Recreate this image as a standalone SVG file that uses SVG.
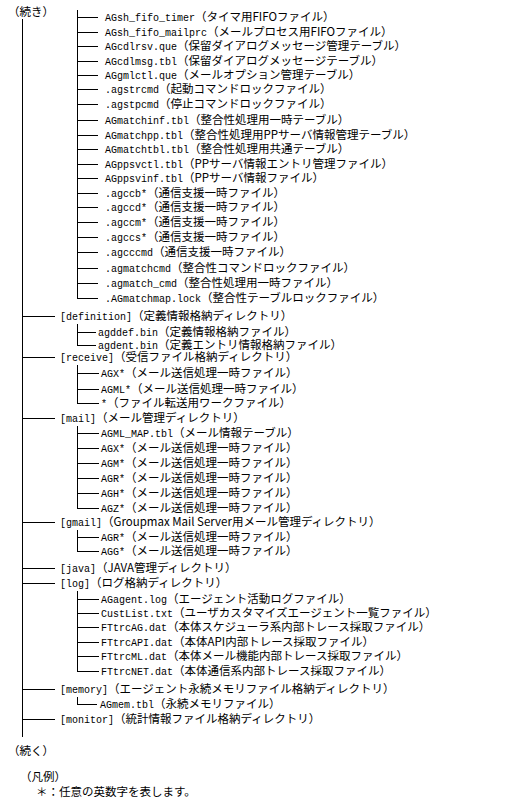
<svg xmlns="http://www.w3.org/2000/svg" width="519" height="804" viewBox="0 0 519 804">
<style>
text{font-family:"Liberation Mono","Noto Sans CJK JP",monospace;font-size:10px;fill:#000}
.j{font-family:"Noto Sans CJK JP","Liberation Sans",sans-serif;font-size:11.5px}
.c line{stroke:#000;stroke-width:1;shape-rendering:crispEdges}
</style>
<rect width="519" height="804" fill="#fff"/>
<g id="connectors" class="c">
<line x1="22.5" y1="19" x2="22.5" y2="737"/>
<line x1="77.5" y1="10" x2="77.5" y2="298.5"/>
<line x1="77" y1="17.5" x2="98" y2="17.5"/><line x1="77" y1="32.5" x2="98" y2="32.5"/><line x1="77" y1="46.5" x2="98" y2="46.5"/><line x1="77" y1="61.5" x2="98" y2="61.5"/><line x1="77" y1="75.5" x2="98" y2="75.5"/><line x1="77" y1="89.5" x2="98" y2="89.5"/><line x1="77" y1="104.5" x2="98" y2="104.5"/><line x1="77" y1="120.5" x2="98" y2="120.5"/><line x1="77" y1="135.5" x2="98" y2="135.5"/><line x1="77" y1="149.5" x2="98" y2="149.5"/><line x1="77" y1="164.5" x2="98" y2="164.5"/><line x1="77" y1="178.5" x2="98" y2="178.5"/><line x1="77" y1="193.5" x2="98" y2="193.5"/><line x1="77" y1="207.5" x2="98" y2="207.5"/><line x1="77" y1="222.5" x2="98" y2="222.5"/><line x1="77" y1="237.5" x2="98" y2="237.5"/><line x1="77" y1="252.5" x2="98" y2="252.5"/><line x1="77" y1="268.5" x2="98" y2="268.5"/><line x1="77" y1="283.5" x2="98" y2="283.5"/><line x1="77" y1="298.5" x2="98" y2="298.5"/>
<line x1="22" y1="316.5" x2="55" y2="316.5"/><line x1="22" y1="357.5" x2="55" y2="357.5"/><line x1="22" y1="418.5" x2="55" y2="418.5"/><line x1="22" y1="522.5" x2="55" y2="522.5"/><line x1="22" y1="568.5" x2="55" y2="568.5"/><line x1="22" y1="583.5" x2="55" y2="583.5"/><line x1="22" y1="689.5" x2="55" y2="689.5"/><line x1="22" y1="719.5" x2="55" y2="719.5"/>
<line x1="77.5" y1="324" x2="77.5" y2="345.5"/><line x1="77" y1="332.5" x2="96" y2="332.5"/><line x1="77" y1="345.5" x2="96" y2="345.5"/>
<line x1="77.5" y1="365" x2="77.5" y2="403.5"/><line x1="77" y1="373.5" x2="99" y2="373.5"/><line x1="77" y1="389.5" x2="99" y2="389.5"/><line x1="77" y1="403.5" x2="99" y2="403.5"/>
<line x1="77.5" y1="426" x2="77.5" y2="508.5"/><line x1="77" y1="433.5" x2="99" y2="433.5"/><line x1="77" y1="448.5" x2="99" y2="448.5"/><line x1="77" y1="463.5" x2="99" y2="463.5"/><line x1="77" y1="478.5" x2="99" y2="478.5"/><line x1="77" y1="493.5" x2="99" y2="493.5"/><line x1="77" y1="508.5" x2="99" y2="508.5"/>
<line x1="77.5" y1="530" x2="77.5" y2="551.5"/><line x1="77" y1="537.5" x2="99" y2="537.5"/><line x1="77" y1="551.5" x2="99" y2="551.5"/>
<line x1="77.5" y1="591" x2="77.5" y2="671.5"/><line x1="77" y1="599.5" x2="99" y2="599.5"/><line x1="77" y1="613.5" x2="99" y2="613.5"/><line x1="77" y1="627.5" x2="99" y2="627.5"/><line x1="77" y1="642.5" x2="99" y2="642.5"/><line x1="77" y1="656.5" x2="99" y2="656.5"/><line x1="77" y1="671.5" x2="99" y2="671.5"/>
<line x1="77.5" y1="697" x2="77.5" y2="704.5"/><line x1="77" y1="704.5" x2="97" y2="704.5"/>
</g>
<g id="head"><text x="8" y="16"><tspan class="j">（続き）</tspan></text></g>
<g id="n1"><text x="105" y="21">AGsh_fifo_timer<tspan class="j">（タイマ用FIFOファイル）</tspan></text></g>
<g id="n2"><text x="105" y="36">AGsh_fifo_mailprc<tspan class="j">（メールプロセス用FIFOファイル）</tspan></text></g>
<g id="n3"><text x="105" y="50">AGcdlrsv.que<tspan class="j">（保留ダイアログメッセージ管理テーブル）</tspan></text></g>
<g id="n4"><text x="105" y="65">AGcdlmsg.tbl<tspan class="j">（保留ダイアログメッセージテーブル）</tspan></text></g>
<g id="n5"><text x="105" y="79">AGgmlctl.que<tspan class="j">（メールオプション管理テーブル）</tspan></text></g>
<g id="n6"><text x="105" y="93">.agstrcmd<tspan class="j">（起動コマンドロックファイル）</tspan></text></g>
<g id="n7"><text x="105" y="108">.agstpcmd<tspan class="j">（停止コマンドロックファイル）</tspan></text></g>
<g id="n8"><text x="105" y="124">AGmatchinf.tbl<tspan class="j">（整合性処理用一時テーブル）</tspan></text></g>
<g id="n9"><text x="105" y="139">AGmatchpp.tbl<tspan class="j">（整合性処理用PPサーバ情報管理テーブル）</tspan></text></g>
<g id="n10"><text x="105" y="153">AGmatchtbl.tbl<tspan class="j">（整合性処理用共通テーブル）</tspan></text></g>
<g id="n11"><text x="105" y="168">AGppsvctl.tbl<tspan class="j">（PPサーバ情報エントリ管理ファイル）</tspan></text></g>
<g id="n12"><text x="105" y="182">AGppsvinf.tbl<tspan class="j">（PPサーバ情報ファイル）</tspan></text></g>
<g id="n13"><text x="105" y="197">.agccb*<tspan class="j">（通信支援一時ファイル）</tspan></text></g>
<g id="n14"><text x="105" y="211">.agccd*<tspan class="j">（通信支援一時ファイル）</tspan></text></g>
<g id="n15"><text x="105" y="226">.agccm*<tspan class="j">（通信支援一時ファイル）</tspan></text></g>
<g id="n16"><text x="105" y="241">.agccs*<tspan class="j">（通信支援一時ファイル）</tspan></text></g>
<g id="n17"><text x="105" y="256">.agcccmd<tspan class="j">（通信支援一時ファイル）</tspan></text></g>
<g id="n18"><text x="105" y="272">.agmatchcmd<tspan class="j">（整合性コマンドロックファイル）</tspan></text></g>
<g id="n19"><text x="105" y="287">.agmatch_cmd<tspan class="j">（整合性処理用一時ファイル）</tspan></text></g>
<g id="n20"><text x="105" y="302">.AGmatchmap.lock<tspan class="j">（整合性テーブルロックファイル）</tspan></text></g>
<g id="definition"><text x="60" y="320">[definition]<tspan class="j">（定義情報格納ディレクトリ）</tspan></text></g>
<g id="agddef"><text x="98" y="336">agddef.bin<tspan class="j">（定義情報格納ファイル）</tspan></text></g>
<g id="agdent"><text x="98" y="349">agdent.bin<tspan class="j">（定義エントリ情報格納ファイル）</tspan></text></g>
<g id="receive"><text x="60" y="361">[receive]<tspan class="j">（受信ファイル格納ディレクトリ）</tspan></text></g>
<g id="r1"><text x="101" y="377">AGX*<tspan class="j">（メール送信処理一時ファイル）</tspan></text></g>
<g id="r2"><text x="101" y="393">AGML*<tspan class="j">（メール送信処理一時ファイル）</tspan></text></g>
<g id="r3"><text x="101" y="407">*<tspan class="j">（ファイル転送用ワークファイル）</tspan></text></g>
<g id="mail"><text x="60" y="422">[mail]<tspan class="j">（メール管理ディレクトリ）</tspan></text></g>
<g id="m1"><text x="101" y="437">AGML_MAP.tbl<tspan class="j">（メール情報テーブル）</tspan></text></g>
<g id="m2"><text x="101" y="452">AGX*<tspan class="j">（メール送信処理一時ファイル）</tspan></text></g>
<g id="m3"><text x="101" y="467">AGM*<tspan class="j">（メール送信処理一時ファイル）</tspan></text></g>
<g id="m4"><text x="101" y="482">AGR*<tspan class="j">（メール送信処理一時ファイル）</tspan></text></g>
<g id="m5"><text x="101" y="497">AGH*<tspan class="j">（メール送信処理一時ファイル）</tspan></text></g>
<g id="m6"><text x="101" y="512">AGZ*<tspan class="j">（メール送信処理一時ファイル）</tspan></text></g>
<g id="gmail"><text x="60" y="526">[gmail]<tspan class="j">（Groupmax Mail Server用メール管理ディレクトリ）</tspan></text></g>
<g id="g1"><text x="101" y="541">AGR*<tspan class="j">（メール送信処理一時ファイル）</tspan></text></g>
<g id="g2"><text x="101" y="555">AGG*<tspan class="j">（メール送信処理一時ファイル）</tspan></text></g>
<g id="java"><text x="60" y="572">[java]<tspan class="j">（JAVA管理ディレクトリ）</tspan></text></g>
<g id="log"><text x="60" y="587">[log]<tspan class="j">（ログ格納ディレクトリ）</tspan></text></g>
<g id="l1"><text x="101" y="603">AGagent.log<tspan class="j">（エージェント活動ログファイル）</tspan></text></g>
<g id="l2"><text x="101" y="617">CustList.txt<tspan class="j">（ユーザカスタマイズエージェント一覧ファイル）</tspan></text></g>
<g id="l3"><text x="101" y="631">FTtrcAG.dat<tspan class="j">（本体スケジューラ系内部トレース採取ファイル）</tspan></text></g>
<g id="l4"><text x="101" y="646">FTtrcAPI.dat<tspan class="j">（本体API内部トレース採取ファイル）</tspan></text></g>
<g id="l5"><text x="101" y="660">FTtrcML.dat<tspan class="j">（本体メール機能内部トレース採取ファイル）</tspan></text></g>
<g id="l6"><text x="101" y="675">FTtrcNET.dat<tspan class="j">（本体通信系内部トレース採取ファイル）</tspan></text></g>
<g id="memory"><text x="60" y="693">[memory]<tspan class="j">（エージェント永続メモリファイル格納ディレクトリ）</tspan></text></g>
<g id="mem1"><text x="100" y="708">AGmem.tbl<tspan class="j">（永続メモリファイル）</tspan></text></g>
<g id="monitor"><text x="60" y="723">[monitor]<tspan class="j">（統計情報ファイル格納ディレクトリ）</tspan></text></g>
<g id="tail"><text x="8" y="755"><tspan class="j">（続く）</tspan></text></g>
<g id="legend"><text x="20" y="781"><tspan class="j">（凡例）</tspan></text><text x="36" y="796"><tspan class="j">＊：任意の英数字を表します。</tspan></text></g>
</svg>
